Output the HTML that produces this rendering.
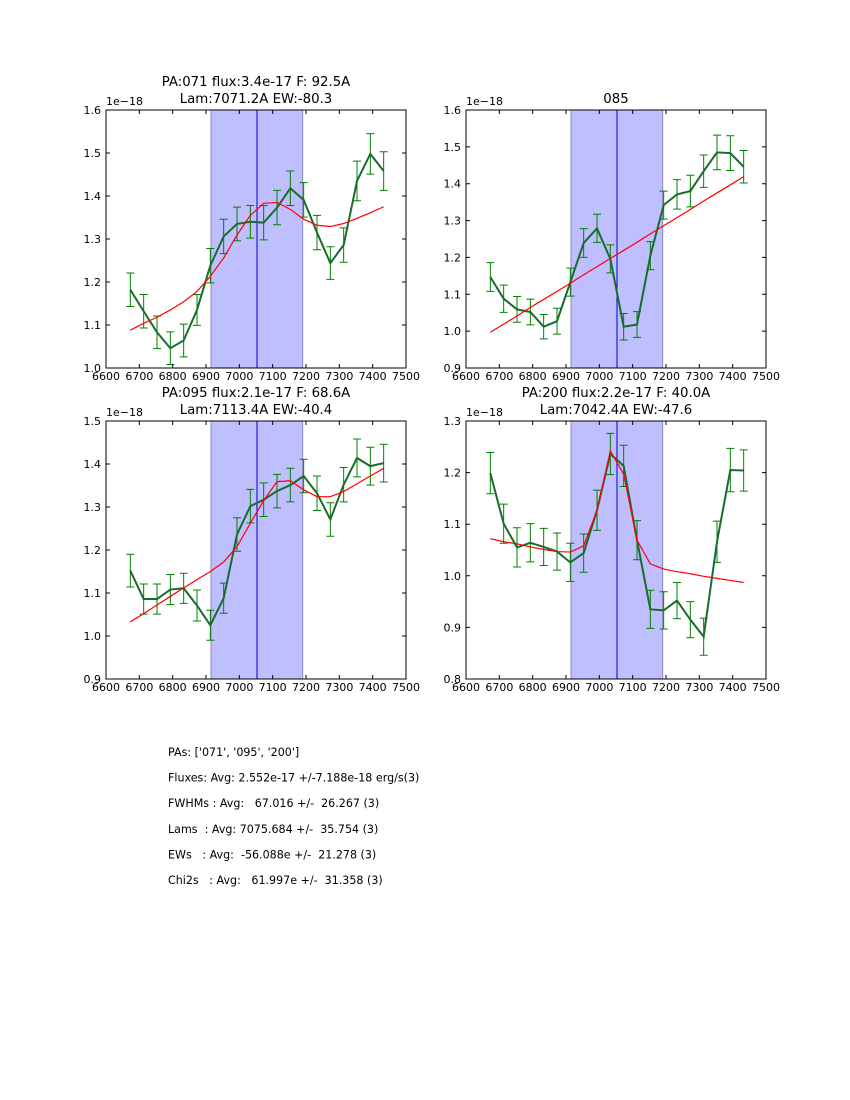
<!DOCTYPE html>
<html><head><meta charset="utf-8"><style>
body{margin:0;background:#fff;}
svg{display:block;font-family:"DejaVu Sans","Liberation Sans",sans-serif;}
</style></head><body>
<svg id="fig" width="850" height="1100" viewBox="0 0 850 1100">
<rect width="850" height="1100" fill="#fff"/>
</svg>
<script>
const waves=[6673,6713,6753,6793,6833,6873,6913,6953,6993,7033,7073,7113,7153,7193,7233,7273,7313,7353,7393,7433];
const xTicks=[6600,6700,6800,6900,7000,7100,7200,7300,7400,7500];
const p1Flux=[1.182,1.132,1.083,1.046,1.064,1.135,1.238,1.306,1.335,1.340,1.338,1.373,1.418,1.391,1.315,1.244,1.286,1.435,1.498,1.458];
const p1Err=[0.039,0.039,0.038,0.038,0.038,0.036,0.04,0.04,0.039,0.038,0.04,0.04,0.04,0.04,0.04,0.038,0.04,0.046,0.047,0.045];
const p1Fit=[1.088,1.104,1.118,1.135,1.154,1.178,1.213,1.256,1.309,1.355,1.383,1.385,1.369,1.346,1.332,1.329,1.336,1.348,1.361,1.375];
const p2Flux=[1.147,1.088,1.059,1.052,1.012,1.027,1.133,1.239,1.279,1.196,1.012,1.018,1.205,1.342,1.371,1.380,1.434,1.485,1.483,1.446];
const p2Err=[0.039,0.037,0.035,0.035,0.033,0.035,0.038,0.039,0.038,0.038,0.036,0.035,0.038,0.038,0.04,0.043,0.044,0.047,0.047,0.044];
const p2Fit=[0.997,1.019,1.041,1.064,1.086,1.108,1.130,1.153,1.175,1.197,1.219,1.241,1.264,1.286,1.308,1.330,1.353,1.375,1.397,1.419];
const p3Flux=[1.152,1.086,1.086,1.108,1.111,1.071,1.025,1.088,1.236,1.302,1.317,1.337,1.351,1.372,1.332,1.271,1.352,1.414,1.395,1.402];
const p3Err=[0.038,0.035,0.035,0.035,0.035,0.036,0.035,0.035,0.039,0.039,0.039,0.039,0.039,0.039,0.04,0.039,0.04,0.044,0.044,0.044];
const p3Fit=[1.033,1.052,1.072,1.092,1.112,1.131,1.150,1.172,1.208,1.262,1.315,1.359,1.361,1.340,1.324,1.324,1.336,1.354,1.372,1.390];
const p4Flux=[1.199,1.101,1.055,1.064,1.056,1.047,1.026,1.044,1.127,1.236,1.213,1.069,0.935,0.933,0.952,0.915,0.882,1.066,1.205,1.204];
const p4Err=[0.04,0.038,0.038,0.037,0.036,0.036,0.037,0.037,0.039,0.04,0.04,0.038,0.037,0.036,0.035,0.035,0.036,0.04,0.042,0.04];
const p4Fit=[1.072,1.066,1.062,1.056,1.051,1.047,1.046,1.058,1.127,1.242,1.197,1.069,1.023,1.013,1.008,1.004,0.999,0.995,0.991,0.987];
const y1Ticks=[1.0,1.1,1.2,1.3,1.4,1.5,1.6];
const y2Ticks=[0.9,1.0,1.1,1.2,1.3,1.4,1.5,1.6];
const y3Ticks=[0.9,1.0,1.1,1.2,1.3,1.4,1.5];
const y4Ticks=[0.8,0.9,1.0,1.1,1.2,1.3];
const bandLo=6915, bandHi=7190, lineX=7053;

const NS="http://www.w3.org/2000/svg";
const svg=document.getElementById('fig');
function mk(tag,attrs,parent){const e=document.createElementNS(NS,tag);for(const k in attrs)e.setAttribute(k,attrs[k]);(parent||svg).appendChild(e);return e;}

const panels=[
 {name:'panel-pa071',x0:106,y0:110,yTicks:y1Ticks,flux:p1Flux,err:p1Err,fit:p1Fit,t1:'PA:071 flux:3.4e-17 F: 92.5A',t2:'Lam:7071.2A EW:-80.3'},
 {name:'panel-pa085',x0:466,y0:110,yTicks:y2Ticks,flux:p2Flux,err:p2Err,fit:p2Fit,t1:null,t2:'085'},
 {name:'panel-pa095',x0:106,y0:421,yTicks:y3Ticks,flux:p3Flux,err:p3Err,fit:p3Fit,t1:'PA:095 flux:2.1e-17 F: 68.6A',t2:'Lam:7113.4A EW:-40.4'},
 {name:'panel-pa200',x0:466,y0:421,yTicks:y4Ticks,flux:p4Flux,err:p4Err,fit:p4Fit,t1:'PA:200 flux:2.2e-17 F: 40.0A',t2:'Lam:7042.4A EW:-47.6'}
];
const W=300,H=258;
panels.forEach(p=>{
 const g=mk('g',{});
 
 
 const xmin=xTicks[0],xmax=xTicks[xTicks.length-1];
 const ymin=p.yTicks[0],ymax=p.yTicks[p.yTicks.length-1];
 const X=v=>p.x0+(v-xmin)/(xmax-xmin)*W;
 const Y=v=>p.y0+H-(v-ymin)/(ymax-ymin)*H;
 const band=mk('rect',{x:X(bandLo),y:p.y0,width:X(bandHi)-X(bandLo),height:H,fill:'#bfbfff',stroke:'#8888bb','stroke-width':1},g);
 
 
 const vl=mk('line',{x1:X(lineX),x2:X(lineX),y1:p.y0,y2:p.y0+H,stroke:'#0000cc','stroke-width':1},g);
 
 
 waves.forEach((w,i)=>{
  const x=X(w),a=Y(p.flux[i]+p.err[i]),b=Y(p.flux[i]-p.err[i]);
  const eb=mk('path',{d:`M${x},${a}V${b}M${x-4},${a}H${x+4}M${x-4},${b}H${x+4}`,stroke:'#008000','stroke-width':1,fill:'none'},g);
  
  
 });
 const fl=mk('polyline',{points:waves.map((w,i)=>X(w)+','+Y(p.flux[i])).join(' '),stroke:'#1a6b2e','stroke-width':2,fill:'none'},g);
 
 
 const ft=mk('polyline',{points:waves.map((w,i)=>X(w)+','+Y(p.fit[i])).join(' '),stroke:'#ff0000','stroke-width':1.2,fill:'none'},g);
 
 
 mk('rect',{x:p.x0,y:p.y0,width:W,height:H,fill:'none',stroke:'#000','stroke-width':1},g);
 xTicks.forEach(t=>{
  const x=X(t);
  mk('path',{d:`M${x},${p.y0+H}v-4M${x},${p.y0}v4`,stroke:'#000'},g);
  const tx=mk('text',{x:x,y:p.y0+H+12,'font-size':11,'text-anchor':'middle'},g);
  tx.textContent=t;
  
  
 });
 p.yTicks.forEach(t=>{
  const y=Y(t);
  mk('path',{d:`M${p.x0},${y}h4M${p.x0+W},${y}h-4`,stroke:'#000'},g);
  const ty=mk('text',{x:p.x0-5,y:y+4,'font-size':11,'text-anchor':'end'},g);
  ty.textContent=t.toFixed(1);
  
  
 });
 const off=mk('text',{x:p.x0,y:p.y0-5,'font-size':11},g);
 off.textContent='1e\u221218';
 
 
 const cx=p.x0+W/2;
 if(p.t1){const t=mk('text',{x:cx,y:p.y0-24,'font-size':13.3,'text-anchor':'middle'},g);t.textContent=p.t1;
  
  }
 const t2=mk('text',{x:cx,y:p.y0-7,'font-size':13.3,'text-anchor':'middle'},g);t2.textContent=p.t2;
 
 
});
const stats=["PAs: ['071', '095', '200']","Fluxes: Avg: 2.552e-17 +/-7.188e-18 erg/s(3)","FWHMs : Avg:   67.016 +/-  26.267 (3)","Lams  : Avg: 7075.684 +/-  35.754 (3)","EWs   : Avg:  -56.088e +/-  21.278 (3)","Chi2s   : Avg:   61.997e +/-  31.358 (3)"];
stats.forEach((s,i)=>{
 const t=mk('text',{x:168,y:756+i*25.6,'font-size':11.1,'xml:space':'preserve'});
 t.style.whiteSpace='pre';
 t.textContent=s;
 
 
});
</script>
</body></html>
